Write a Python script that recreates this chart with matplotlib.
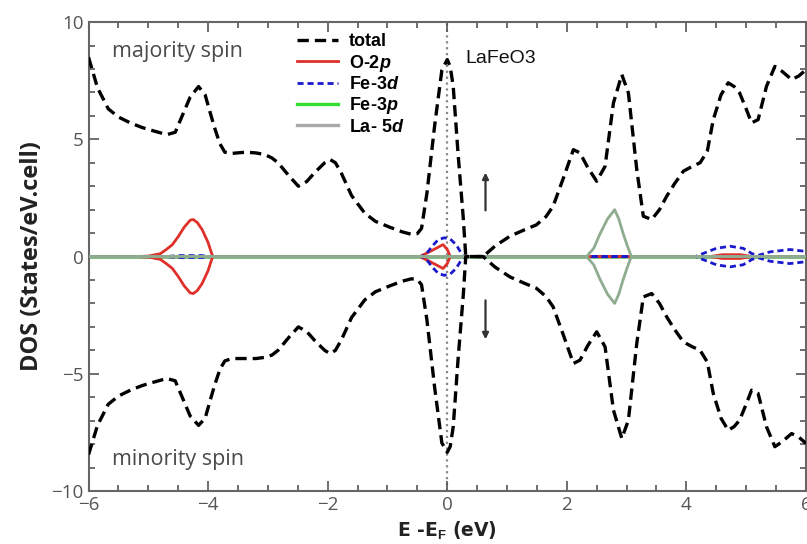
import numpy as np
import matplotlib
matplotlib.use('Agg')
import matplotlib.pyplot as plt
from matplotlib.lines import Line2D
from matplotlib.ticker import MultipleLocator

plt.rcParams['font.family'] = ['Open Sans', 'DejaVu Sans']
plt.rcParams['mathtext.fontset'] = 'custom'
plt.rcParams['mathtext.it'] = 'Liberation Sans:italic:bold'
plt.rcParams['mathtext.rm'] = 'Liberation Sans:bold'
plt.rcParams['mathtext.bf'] = 'Liberation Sans:bold'

# total DOS
e_total = [-6.0, -5.85, -5.67, -5.5, -5.3, -5.1, -4.9, -4.69, -4.55, -4.45, -4.3, -4.16,
           -4.05, -3.95, -3.88, -3.8, -3.72, -3.6, -3.38, -3.2, -3.05, -2.93, -2.83, -2.65,
           -2.49, -2.35, -2.21, -2.05, -1.96, -1.87, -1.77, -1.6, -1.38, -1.2, -0.96, -0.75,
           -0.6, -0.5, -0.43, -0.34, -0.21, -0.09, 0.0, 0.05, 0.10, 0.18, 0.27, 0.31,
           0.6, 0.8, 1.05, 1.3, 1.49, 1.65, 1.77, 1.95, 2.11, 2.22, 2.35, 2.5,
           2.64, 2.78, 2.92, 3.03, 3.17, 3.28, 3.42, 3.55, 3.67, 3.8, 3.95, 4.1,
           4.23, 4.35, 4.45, 4.58, 4.70, 4.8, 4.89, 5.0, 5.09, 5.2, 5.34, 5.48,
           5.6, 5.76, 5.88, 6.0]
total_up = [8.5, 7.2, 6.3, 5.95, 5.7, 5.5, 5.35, 5.2, 5.3, 5.9, 6.8, 7.25,
            6.9, 6.0, 5.4, 4.8, 4.45, 4.4, 4.45, 4.42, 4.35, 4.2, 4.0, 3.45,
            3.0, 3.2, 3.6, 4.0, 4.14, 4.0, 3.55, 2.6, 1.85, 1.5, 1.25, 1.05,
            0.95, 0.98, 1.2, 2.7, 5.6, 7.95, 8.4, 8.1, 7.26, 4.42, 1.58, 0.0,
            0.0, 0.45, 0.87, 1.15, 1.35, 1.7, 2.14, 3.4, 4.56, 4.42, 3.8, 3.21,
            3.85, 6.55, 7.76, 6.98, 3.71, 1.72, 1.58, 2.0, 2.57, 3.1, 3.64, 3.85,
            4.0, 4.5, 5.84, 6.9, 7.41, 7.25, 6.98, 6.3, 5.7, 5.84, 7.26, 8.11,
            7.9, 7.55, 7.7, 7.97]
total_dn = [-8.45, -7.2, -6.3, -5.95, -5.7, -5.5, -5.35, -5.2, -5.3, -5.9, -6.8, -7.2,
            -6.9, -6.0, -5.4, -4.8, -4.45, -4.35, -4.35, -4.35, -4.3, -4.2, -4.0, -3.45,
            -3.0, -3.2, -3.6, -4.0, -4.14, -4.0, -3.55, -2.6, -1.85, -1.5, -1.25, -1.05,
            -0.95, -0.98, -1.2, -2.7, -5.6, -7.95, -8.35, -8.1, -7.26, -4.42, -1.58, 0.0,
            0.0, -0.45, -0.87, -1.15, -1.35, -1.7, -2.14, -3.4, -4.56, -4.42, -3.8, -3.21,
            -3.85, -6.55, -7.76, -6.98, -3.71, -1.72, -1.58, -2.0, -2.57, -3.1, -3.64, -3.85,
            -4.0, -4.5, -5.84, -6.9, -7.41, -7.25, -6.98, -6.3, -5.7, -5.84, -7.26, -8.11,
            -7.9, -7.55, -7.7, -7.97]

# O-2p
e_o2p = [-6.0, -5.2, -5.0, -4.8, -4.7, -4.6, -4.5, -4.4, -4.3, -4.25, -4.18, -4.1,
         -4.0, -3.95, -3.92, -0.6, -0.46, -0.3, -0.15, -0.07, 0.0, 0.05,
         4.4, 4.6, 4.9, 5.1, 6.0]
o2p_up = [0, 0, 0.02, 0.12, 0.3, 0.5, 0.85, 1.25, 1.55, 1.58, 1.45, 1.15,
          0.6, 0.2, 0, 0, 0, 0.2, 0.4, 0.51, 0.3, 0,
          0, 0.08, 0.08, 0, 0]
o2p_dn = [0, 0, -0.02, -0.12, -0.3, -0.5, -0.85, -1.25, -1.55, -1.58, -1.45, -1.15,
          -0.6, -0.2, 0, 0, 0, -0.2, -0.4, -0.51, -0.3, 0,
          0, -0.08, -0.08, 0, 0]

# Fe-3d
e_fe3d = [-6.0, -4.7, -4.5, -4.3, -4.1, -3.95, -0.45, -0.37, -0.25, -0.15, -0.05, 0.05,
          0.15, 0.27, 4.15, 4.3, 4.5, 4.73, 4.95, 5.1, 5.2, 5.4, 5.73, 6.0]
fe3d_up = [0, 0, 0.04, 0.04, 0.04, 0, 0, 0.05, 0.45, 0.72, 0.8, 0.75,
           0.5, 0, 0, 0.15, 0.35, 0.44, 0.35, 0.12, 0.05, 0.2, 0.3, 0.22]
fe3d_dn = [0, 0, -0.04, -0.04, -0.04, 0, 0, -0.05, -0.45, -0.72, -0.8, -0.75,
           -0.5, 0, 0, -0.15, -0.35, -0.44, -0.35, -0.12, -0.05, -0.2, -0.3, -0.22]

# Fe-3p
e_fe3p = [-6.0, 6.0]
fe3p_up = [0, 0]
fe3p_dn = [0, 0]

# La-5d
e_la5d = [-6.0, 2.33, 2.45, 2.55, 2.68, 2.8, 2.87, 2.94, 3.02, 3.08, 6.0]
la5d_up = [0, 0, 0.35, 0.94, 1.6, 2.0, 1.6, 1.0, 0.4, 0, 0]
la5d_dn = [0, 0, -0.35, -0.94, -1.6, -2.0, -1.6, -1.0, -0.4, 0, 0]

fig = plt.figure(figsize=(8.07, 5.44), dpi=100)
ax = fig.add_axes([0.1097, 0.0974, 0.889, 0.862])

ax.axvline(0, color='#888888', ls=':', lw=1.6, zorder=1)

for y in (o2p_up, o2p_dn):
    ax.plot(e_o2p, y, color='#e0302a', lw=2, zorder=3)
for y in (fe3d_up, fe3d_dn):
    ax.plot(e_fe3d, y, color='#1a1acc', lw=2, ls=(0, (2.2, 1.4)), zorder=4)
for y in (fe3p_up, fe3p_dn):
    ax.plot(e_fe3p, y, color='#7fbf7f', lw=2, zorder=2)
for y in (la5d_up, la5d_dn):
    ax.plot(e_la5d, y, color='#8fab90', lw=2, zorder=5)
for y in (total_up, total_dn):
    ax.plot(e_total, y, color='black', lw=2.4, ls=(0, (3.4, 1.8)), zorder=6)

ax.annotate('', xy=(0.64, 3.7), xytext=(0.64, 1.85),
            arrowprops=dict(arrowstyle='-|>', color='#333333', lw=1.6, mutation_scale=9))
ax.annotate('', xy=(0.64, -3.65), xytext=(0.64, -1.75),
            arrowprops=dict(arrowstyle='-|>', color='#333333', lw=1.6, mutation_scale=9))

ax.text(-5.6, 8.75, 'majority spin', fontsize=15.5, color='#4a4a4a', va='center')
ax.text(-5.6, -8.65, 'minority spin', fontsize=15.5, color='#4a4a4a', va='center')
ax.text(0.3, 8.45, 'LaFeO3', fontsize=14, color='#111111', va='center',
        family='Liberation Sans')

handles = [
    Line2D([], [], color='black', lw=2.4, ls=(0, (3.4, 1.8))),
    Line2D([], [], color='#e0302a', lw=2),
    Line2D([], [], color='#1a1acc', lw=2, ls=(0, (2.2, 1.4))),
    Line2D([], [], color='#33dd33', lw=2.4),
    Line2D([], [], color='#aaaaaa', lw=2.4),
]
labels = ['total', r'O-2$p$', r'Fe-3$d$', r'Fe-3$p$', r'La- 5$d$']
ax.legend(handles, labels, loc='upper left', bbox_to_anchor=(0.29, 0.976),
          frameon=False, borderaxespad=0, borderpad=0, handlelength=2.3,
          handletextpad=0.6, labelspacing=0.13,
          prop={'family': 'Liberation Sans', 'weight': 'bold', 'size': 13})

ax.set_xlim(-6, 6)
ax.set_ylim(-10, 10)
ax.xaxis.set_major_locator(MultipleLocator(2))
ax.xaxis.set_minor_locator(MultipleLocator(0.5))
ax.yaxis.set_major_locator(MultipleLocator(5))
ax.yaxis.set_minor_locator(MultipleLocator(1))
ax.tick_params(which='both', direction='in', top=True, right=True, colors='#555555',
               labelsize=13.5, width=1.2)
ax.tick_params(which='major', length=7)
ax.tick_params(which='minor', length=4)
for s in ax.spines.values():
    s.set_color('#666666')
    s.set_linewidth(1.5)

ax.set_ylabel('DOS (States/eV.cell)', fontsize=17, fontweight='bold', color='#222222',
              labelpad=5)
ax.set_xlabel(r'E -E$_\mathrm{F}$ (eV)', fontsize=13.5, fontweight='bold',
              family='DejaVu Sans', color='#222222', labelpad=4)

fig.savefig('out.png', dpi=100)
